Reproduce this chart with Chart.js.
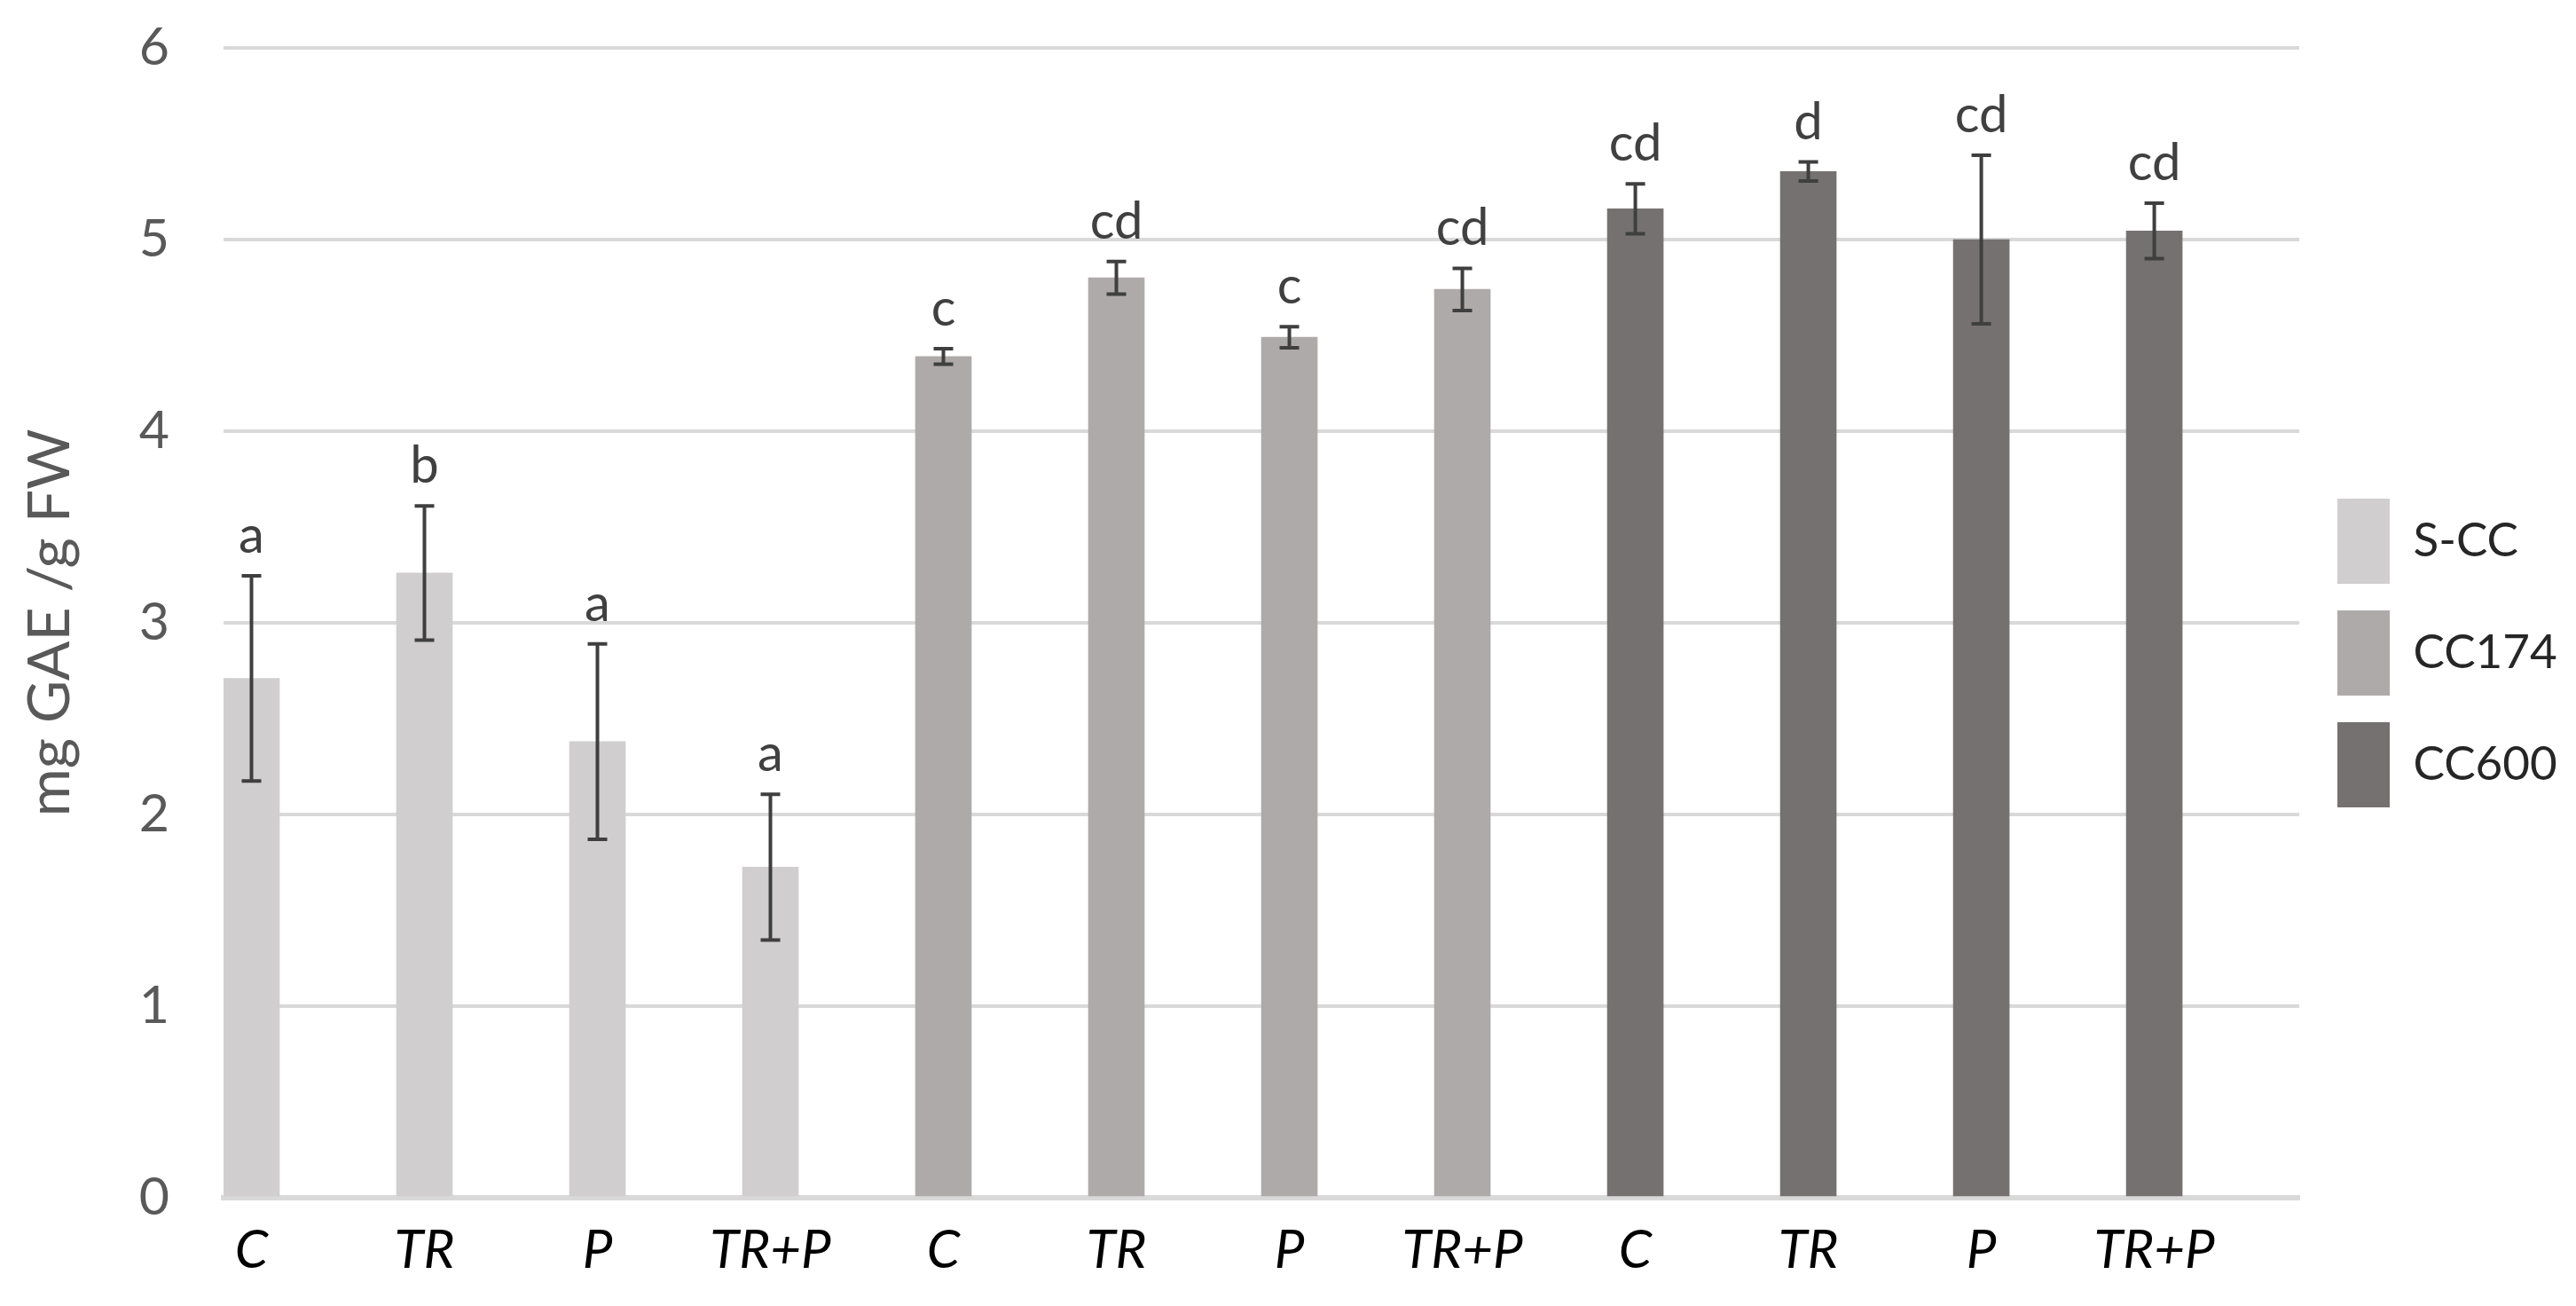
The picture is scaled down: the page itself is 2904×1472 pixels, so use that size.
<!DOCTYPE html>
<html>
<head>
<meta charset="utf-8">
<script src="https://cdn.jsdelivr.net/npm/chart.js@4.4.1/dist/chart.umd.min.js"></script>
<style>
html,body{margin:0;padding:0;background:#fff}
#wrap{width:2904px;height:1472px;position:relative}
</style>
</head>
<body>
<div id="wrap"><canvas id="chart"></canvas></div>
<script>
const treatments=["C","TR","P","TR+P"]
const seriesNames=["S-CC","CC174","CC600"]
const seriesColors=["#D0CECE","#AEAAAA","#767171"]

const sccMean=[2.71,3.26,2.38,1.725]
const sccErr=[0.535,0.35,0.51,0.38]
const sccLetters=["a","b","a","a"]

const cc174Mean=[4.39,4.80,4.49,4.74]
const cc174Err=[0.04,0.085,0.055,0.11]
const cc174Letters=["c","cd","c","cd"]

const cc600Mean=[5.16,5.355,5.0,5.045]
const cc600Err=[0.13,0.05,0.44,0.145]
const cc600Letters=["cd","d","cd","cd"]

const yTicks=[0,1,2,3,4,5,6]

const xLabels=[...treatments,...treatments,...treatments]

const means=[sccMean,cc174Mean,cc600Mean]
const errs=[sccErr,cc174Err,cc600Err]
const letters=[sccLetters,cc174Letters,cc600Letters]

// legend sizing, so the boxes land where the reference has them
const legendFont=53
const legendPad=30
const boxW=59
const mctx=document.createElement("canvas").getContext("2d")
mctx.font=legendFont+"px Lato"
let textW=0
seriesNames.forEach(n=>{textW=Math.max(textW,mctx.measureText(n).width)})
const legendW=legendPad+boxW+legendFont/2+textW+10
const legendLeft=2635-legendPad
const padRight=2904-legendLeft-legendW

const datasets=seriesNames.map((name,s)=>({
label:name,
data:means[s].map((v,i)=>({x:s*4+i,y:v})),
err:errs[s],
letters:letters[s],
backgroundColor:seriesColors[s],
borderWidth:0,
grouped:false,
barThickness:63
}))

const errorBars={
id:"errorBars",
afterDatasetsDraw(chart){
const ctx=chart.ctx
const xs=chart.scales.x
const ys=chart.scales.y
ctx.save()
ctx.strokeStyle="#3F3F3F"
ctx.lineWidth=4
ctx.fillStyle="#404040"
ctx.font="58px Lato"
ctx.textAlign="center"
ctx.textBaseline="alphabetic"
chart.data.datasets.forEach(ds=>{
ds.data.forEach((p,i)=>{
const x=xs.getPixelForValue(p.x)
const top=ys.getPixelForValue(p.y+ds.err[i])
const bot=ys.getPixelForValue(p.y-ds.err[i])
ctx.beginPath()
ctx.moveTo(x,top)
ctx.lineTo(x,bot)
ctx.moveTo(x-11,top)
ctx.lineTo(x+11,top)
ctx.moveTo(x-11,bot)
ctx.lineTo(x+11,bot)
ctx.stroke()
ctx.fillText(ds.letters[i],x,top-26)
})
})
ctx.restore()
}
}

new Chart(document.getElementById("chart"),{
type:"bar",
data:{datasets:datasets},
plugins:[errorBars],
options:{
responsive:true,
maintainAspectRatio:false,
animation:false,
devicePixelRatio:1,
layout:{padding:{left:0,right:padRight,top:0,bottom:0}},
plugins:{
title:{display:true,text:"",padding:0,font:{size:54,lineHeight:1}},
tooltip:{enabled:false},
legend:{
position:"right",
labels:{
font:{family:"Lato",size:legendFont},
color:"#262626",
boxWidth:boxW,
boxHeight:96,
padding:legendPad
}
}
},
scales:{
x:{
type:"linear",
offset:false,
min:-0.1615,
max:11.838,
grid:{display:false},
border:{display:true,color:"#D9D9D9",width:6},
afterBuildTicks:axis=>{axis.ticks=xLabels.map((l,i)=>({value:i}))},
afterFit:axis=>{axis.height=122},
ticks:{
autoSkip:false,
maxRotation:0,
padding:16,
color:"#000",
font:{family:"Lato",size:60,style:"italic"},
callback:v=>xLabels[v]
}
},
y:{
min:0,
max:6,
afterBuildTicks:axis=>{axis.ticks=yTicks.map(v=>({value:v}))},
afterFit:axis=>{axis.width=252;axis.paddingTop=0;axis.paddingBottom=0},
grid:{color:"#D9D9D9",lineWidth:4,drawTicks:false},
border:{display:false},
ticks:{
padding:61,
color:"#595959",
font:{family:"Lato",size:59}
},
title:{
display:true,
text:"mg GAE /g FW",
color:"#595959",
font:{family:"Lato",size:66},
padding:{top:17,bottom:0}
}
},
yR:{
type:"linear",
position:"right",
display:true,
grid:{display:false},
border:{display:false},
ticks:{display:false},
afterFit:axis=>{axis.width=legendLeft-2592}
}
}
}
})
</script>
</body>
</html>
